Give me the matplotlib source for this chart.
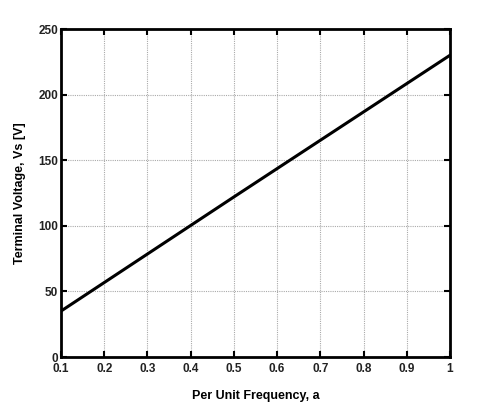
import matplotlib
matplotlib.use("Agg")
import matplotlib.pyplot as plt

freq = [0.1, 0.5, 1.0]
voltage = [35.0, 122.0, 230.0]
xticks = [0.1, 0.2, 0.3, 0.4, 0.5, 0.6, 0.7, 0.8, 0.9, 1.0]
xticklabels = ["0.1", "0.2", "0.3", "0.4", "0.5", "0.6", "0.7", "0.8", "0.9", "1"]
yticks = [0, 50, 100, 150, 200, 250]

plt.rcParams['font.family'] = ['Liberation Sans', 'DejaVu Sans']
fig = plt.figure(figsize=(4.99, 4.2), dpi=100)
ax = fig.add_axes([61/499, 1-357/420, (450-61)/499, (357-29)/420])
ax.plot(freq, voltage, color='black', lw=2.2)
ax.set_xlim(0.1, 1.0)
ax.set_ylim(0, 250)
ax.set_xticks(xticks)
ax.set_xticklabels(xticklabels)
ax.set_yticks(yticks)
ax.grid(True, color='#aaaaaa', linestyle=(0, (1, 1)), lw=0.8)
ax.tick_params(direction='in', top=True, right=True, length=4, width=1.5,
               labelsize=8.5)
ax.tick_params(axis='x', pad=4.5)
ax.tick_params(axis='y', pad=2)
for lbl in ax.get_xticklabels() + ax.get_yticklabels():
    lbl.set_fontweight('bold')
    lbl.set_color('#222222')
for s in ax.spines.values():
    s.set_linewidth(2)
ax.set_xlabel("Per Unit Frequency, a", fontsize=9, fontweight='bold', labelpad=10.5)
ax.set_ylabel("Terminal Voltage, Vs [V]", fontsize=9, fontweight='bold', labelpad=9)
fig.savefig("out.png", dpi=100)
